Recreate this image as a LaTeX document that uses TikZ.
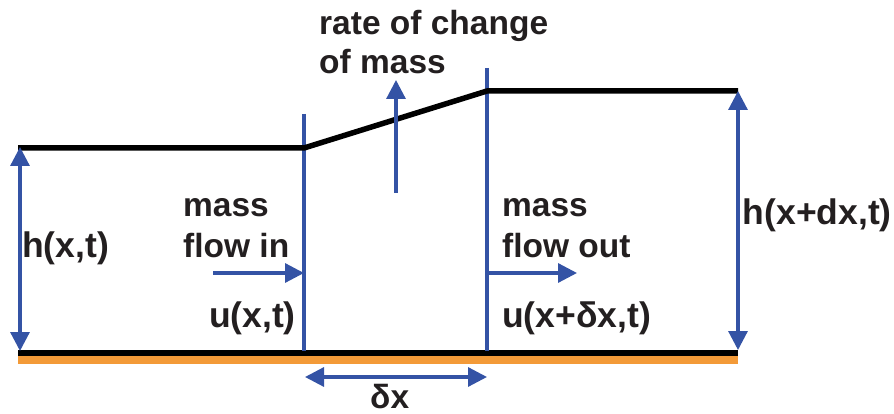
\documentclass[tikz,border=0pt]{standalone}
\usepackage{fontspec}
\setmainfont{Liberation Sans}
\usetikzlibrary{arrows.meta}
\definecolor{myblue}{RGB}{52,83,165}
\definecolor{myorange}{RGB}{243,154,56}
\definecolor{txt}{RGB}{35,31,32}
\tikzset{
  lbl/.style={font=\bfseries\fontsize{33.5}{40}\selectfont, text=txt, inner sep=0pt, anchor=base west},
  flbl/.style={lbl, font=\bfseries\fontsize{35.5}{42}\selectfont},
  wall/.style={draw=myblue, line width=4pt},
  barr/.style={draw=myblue, line width=3.2pt, -{Triangle[length=19pt,width=19pt]}},
  darr/.style={draw=myblue, line width=3.2pt, {Triangle[length=19pt,width=19pt]}-{Triangle[length=19pt,width=19pt]}},
  water/.style={draw=black, line width=5.5pt},
}
\begin{document}
\begin{tikzpicture}[x=1pt,y=-1pt]
\useasboundingbox (0,0) rectangle (894,414);
% coordinates
\coordinate (gl) at (18,353);
\coordinate (gr) at (738,353);
\coordinate (wl) at (18,148);
\coordinate (w1) at (304,148);
\coordinate (w2) at (487,91);
\coordinate (wr) at (738,91);
\coordinate (v1t) at (304,114);
\coordinate (v1b) at (304,351);
\coordinate (v2t) at (487,68);
\coordinate (v2b) at (487,351);
% ground
\fill[myorange] (18,355) rectangle (738,364);
\draw[water] (gl) -- (gr);
% walls
\draw[wall] (v1t) -- (v1b);
\draw[wall] (v2t) -- (v2b);
% water surface
\draw[water, line join=round] (wl) -- (w1) -- (w2) -- (wr);
% height arrows
\coordinate (hlt) at (20,147);
\coordinate (hlb) at (20,351);
\draw[darr] (hlt) -- (hlb);
\coordinate (hrt) at (738,91);
\coordinate (hrb) at (738,350);
\draw[darr] (hrt) -- (hrb);
% rate of change arrow
\coordinate (ra) at (396,193);
\coordinate (rb) at (396,80);
\draw[barr] (ra) -- (rb);
% flow arrows
\coordinate (fi) at (213,273);
\coordinate (fo) at (577,273);
\draw[barr] (fi) -- (fi -| v1t);
\draw[barr] (fo -| v2t) -- (fo);
% delta x arrow
\coordinate (dxl) at (305,377);
\coordinate (dxr) at (487,377);
\draw[darr] (dxl) -- (dxr);
% labels
\node[lbl] (rate1) at (319,35) {rate of change};
\node[lbl] (rate2) at (319,74) {of mass};
\node[lbl] (in1) at (183,217) {mass};
\node[lbl] (in2) at (183,258) {flow in};
\node[flbl, anchor=base east] (uin) at (296,327) {u(x,t)};
\node[lbl] (out1) at (502,217) {mass};
\node[lbl] (out2) at (502,258) {flow out};
\node[flbl] (uout) at (502,327) {u(x+δx,t)};
\node[flbl] (hl) at (22,258) {h(x,t)};
\node[flbl, anchor=base east] (hr) at (892,225) {h(x+dx,t)};
\node[lbl] (dx) at (370,408) {δx};
\end{tikzpicture}
\end{document}
